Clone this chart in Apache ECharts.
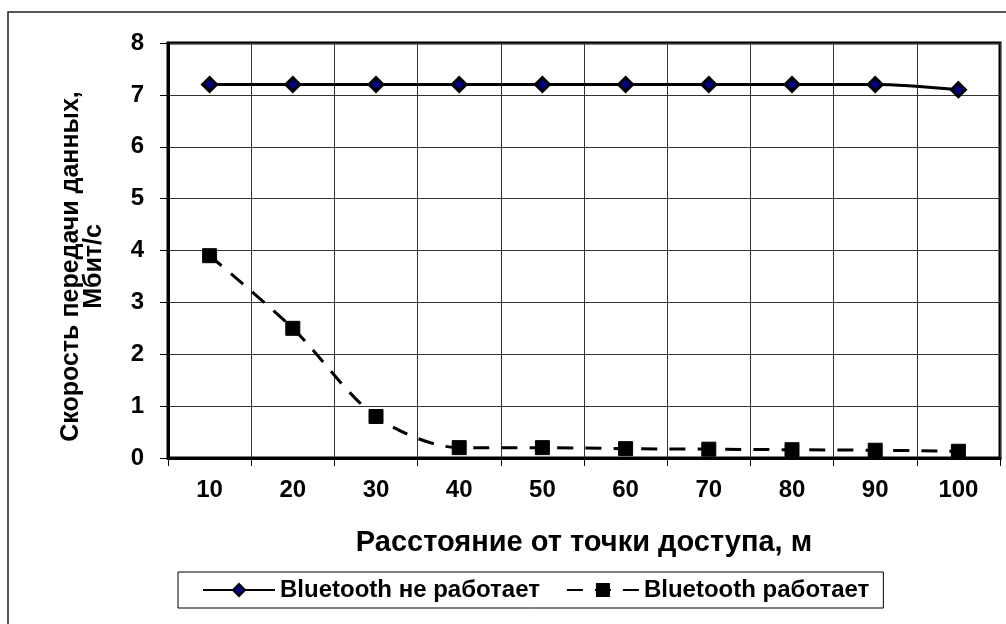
<!DOCTYPE html>
<html>
<head>
<meta charset="utf-8">
<script src="https://cdn.jsdelivr.net/npm/echarts@6/dist/echarts.min.js"></script>
<style>
  html, body { margin: 0; padding: 0; background: #fff; }
  #chart { width: 1006px; height: 624px; }
</style>
</head>
<body>
<div id="chart"></div>
<script>
const distances = ['10', '20', '30', '40', '50', '60', '70', '80', '90', '100'];
const btOff = [7.2, 7.2, 7.2, 7.2, 7.2, 7.2, 7.2, 7.2, 7.2, 7.1];
const btOn  = [3.9, 2.5, 0.8, 0.2, 0.2, 0.18, 0.17, 0.16, 0.15, 0.13];

const font = '"Liberation Sans", Arial, sans-serif';
const chart = echarts.init(document.getElementById('chart'));

chart.setOption({
    animation: false,
    backgroundColor: '#fff',
    graphic: [{
        type: 'rect',
        shape: { x: 8, y: 12, width: 1100, height: 700 },
        style: { fill: 'none', stroke: '#222', lineWidth: 1.5 }
    }],
    grid: {
        left: 168, right: 6, top: 43, bottom: 166,
        show: true, borderColor: '#000', borderWidth: 3
    },
    legend: {
        left: 178, top: 572,
        borderColor: '#000', borderWidth: 1,
        padding: [6, 14, 6, 24],
        itemWidth: 72, itemHeight: 15, itemGap: 26,
        textStyle: { fontFamily: font, fontSize: 24, fontWeight: 'bold', color: '#000' },
        data: ['Bluetooth не работает', 'Bluetooth работает']
    },
    xAxis: {
        type: 'category',
        data: distances,
        boundaryGap: true,
        name: 'Расстояние от точки доступа, м',
        nameLocation: 'middle',
        nameGap: 70,
        nameTextStyle: { fontFamily: font, fontSize: 29, fontWeight: 'bold', color: '#000' },
        axisLine: { lineStyle: { color: '#000', width: 3 } },
        axisTick: { show: true, length: 8, interval: 0, lineStyle: { color: '#000' } },
        axisLabel: { fontFamily: font, fontSize: 24, fontWeight: 'bold', color: '#000', margin: 20 },
        splitLine: { show: true, interval: 0, lineStyle: { color: '#333', width: 1 } }
    },
    yAxis: {
        type: 'value',
        min: 0, max: 8, interval: 1,
        name: 'Скорость передачи данных,\nМбит/с',
        nameLocation: 'middle',
        nameGap: 62,
        nameTextStyle: {
            fontFamily: font, fontSize: 25, fontWeight: 'bold', color: '#000',
            lineHeight: 23, padding: [0, 32, 0, 0]
        },
        axisLine: { show: true, lineStyle: { color: '#000', width: 3 } },
        axisTick: { show: true, length: 8, lineStyle: { color: '#000' } },
        axisLabel: { fontFamily: font, fontSize: 24, fontWeight: 'bold', color: '#000', margin: 24 },
        splitLine: { show: true, lineStyle: { color: '#333', width: 1 } }
    },
    series: [
        {
            name: 'Bluetooth не работает',
            type: 'line',
            data: btOff,
            smooth: 0.3,
            symbol: 'diamond',
            symbolSize: 14,
            lineStyle: { color: '#000', width: 3 },
            itemStyle: { color: '#000080', borderColor: '#000', borderWidth: 3 }
        },
        {
            name: 'Bluetooth работает',
            type: 'line',
            data: btOn,
            smooth: 0.3,
            symbol: 'rect',
            symbolSize: 14,
            lineStyle: { color: '#000', width: 3, type: [16, 12] },
            itemStyle: { color: '#000', borderColor: '#000', borderWidth: 1 }
        }
    ]
});

window.addEventListener('resize', () => chart.resize());
</script>
</body>
</html>
